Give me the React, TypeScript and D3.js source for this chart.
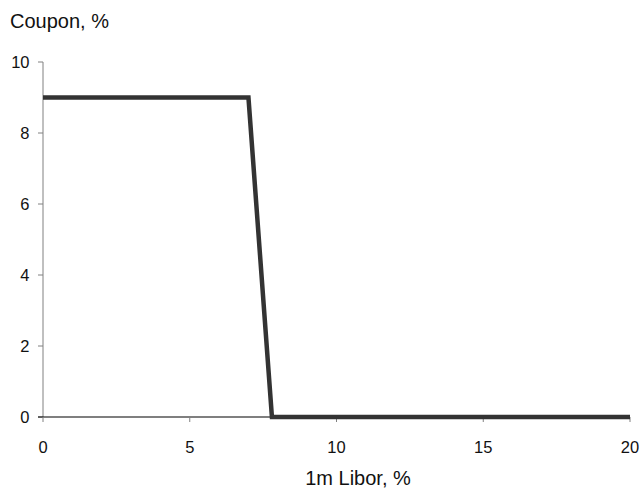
import React from "react";
import * as d3 from "d3";

const liborX: number[] = [0, 7, 7.8, 20];
const couponY: number[] = [9, 9, 0, 0];
const xTicks: number[] = [0, 5, 10, 15, 20];
const yTicks: number[] = [0, 2, 4, 6, 8, 10];
const yTitle = "Coupon, %";
const xTitle = "1m Libor, %";

export default function App() {
  const W = 642, H = 491;
  const x = d3.scaleLinear().domain([0, 20]).range([43, 630]);
  const y = d3.scaleLinear().domain([0, 10]).range([417, 62]);
  const pts: [number, number][] = liborX.map((v, i) => [v, couponY[i]]);
  const line = d3.line<[number, number]>().x(d => x(d[0])).y(d => y(d[1]));
  const font = "'Liberation Sans', Arial, sans-serif";
  return (
    <svg width={W} height={H} style={{ position: "absolute", left: 0, top: 0 }}
      fontFamily={font}>
      <rect width={W} height={H} fill="#fff" />
      <text x={10} y={28} fill="#111" fontSize={20}>{yTitle}</text>
      {/* y axis */}
      <line x1={x(0)} x2={x(0)} y1={y(10)} y2={y(0)} stroke="#808080" strokeWidth={1} />
      {yTicks.map(t => (
        <g key={"y" + t}>
          <line x1={x(0) - 5} x2={x(0)} y1={y(t)} y2={y(t)} stroke="#808080" />
          <text x={29.5} y={y(t) + 6} textAnchor="end" fill="#111" fontSize={16.5}>{t}</text>
        </g>
      ))}
      {/* x axis */}
      <line x1={x(0) - 5} x2={x(20)} y1={y(0)} y2={y(0)} stroke="#000" strokeWidth={1.2} />
      {xTicks.map(t => (
        <g key={"x" + t}>
          <line x1={x(t)} x2={x(t)} y1={y(0)} y2={y(0) + 5} stroke="#808080" />
          <text x={x(t)} y={453} textAnchor="middle" fill="#111" fontSize={16.5}>{t}</text>
        </g>
      ))}
      <text x={358} y={485} textAnchor="middle" fill="#111" fontSize={20}>{xTitle}</text>
      <path d={line(pts) ?? ""} fill="none" stroke="#333" strokeWidth={4.5} strokeLinejoin="miter" />
    </svg>
  );
}
